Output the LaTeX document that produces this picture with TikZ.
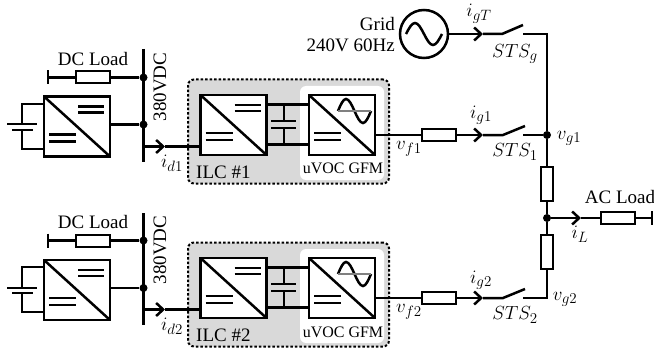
\RequirePackage{fix-cm}
\documentclass[tikz,border=0pt]{standalone}
\usepackage{amsmath}
\usepackage{fontspec}
\setmainfont{Liberation Serif}
\usetikzlibrary{arrows.meta}
\definecolor{ilcgray}{HTML}{D9D9D9}
\newcommand{\bigtxt}{\fontsize{19}{21}\selectfont}
\DeclareMathSizes{19}{19}{15}{11}
% diagonal and lower bars of a converter box
\newcommand{\convlines}[1]{
    \draw[wire] (#1.north west) -- (#1.south east);
    \draw[wire] ([shift={(5,38)}]#1.north west) -- ([shift={(32,38)}]#1.north west);
    \draw[wire] ([shift={(5,45)}]#1.north west) -- ([shift={(32,45)}]#1.north west);
}
\newcommand{\dcdclines}[1]{
    \convlines{#1}
    \draw[wire] ([shift={(34,10)}]#1.north west) -- ([shift={(60,10)}]#1.north west);
    \draw[wire] ([shift={(34,16)}]#1.north west) -- ([shift={(60,16)}]#1.north west);
}
\newcommand{\dcaclines}[1]{
    \convlines{#1}
    \draw[wire] ([shift={(29,16)}]#1.north west) sin ++(8,-12) cos ++(8.5,12) sin ++(8.5,12) cos ++(8,-12);
    \draw[line width=2pt, gray] ([shift={(29,16)}]#1.north west) -- ([shift={(62,16)}]#1.north west);
}
\tikzset{
    wire/.style={
           line width=2.5pt,
           },
    conv/.style={
           rectangle,
           draw=black, line width=2.5pt,
           fill=white,
           minimum width=66pt,
           minimum height=60pt,
           inner sep=0pt,
           outer sep=0pt,
           },
    rload/.style={
           rectangle,
           draw=black, line width=2pt,
           fill=white,
           minimum width=34pt,
           minimum height=12pt,
           inner sep=0pt,
           outer sep=0pt,
           },
    vload/.style={
           rload,
           minimum width=12pt,
           minimum height=34pt,
           },
    dot/.style={
           circle,
           fill=black,
           minimum size=8pt,
           inner sep=0pt,
           },
    ilc/.style={
           rectangle,
           rounded corners=6pt,
           draw=black, line width=2pt, dash pattern=on 2.5pt off 2pt,
           fill=ilcgray,
           minimum width=201pt,
           minimum height=104pt,
           },
    zone/.style={
           rectangle,
           rounded corners=6pt,
           fill=white,
           minimum width=84pt,
           minimum height=94pt,
           },
    lbl/.style={
           inner sep=0pt,
           font=\bigtxt,
           },
    >={Straight Barb[length=7pt,width=13pt]},
}

\begin{document}
\begin{tikzpicture}[x=1pt,y=-1pt]
    \useasboundingbox (0,0) rectangle (654,353);

    % ILC frames
    \node[ilc] (frame1) at (288.5,131.5) {};
    \node[ilc] (frame2) at (288.5,294.5) {};
    \node[zone] (zone1) at (342,133) {};
    \node[zone] (zone2) at (342,296) {};

    % Converters
    \node[conv] (batt1) at (77,126.5) {};
    \node[conv] (batt2) at (77,290) {};
    \node[conv] (rect1) at (233.5,125) {};
    \node[conv] (rect2) at (233.5,288) {};
    \node[conv] (inv1) at (342,125) {};
    \node[conv] (inv2) at (342,288) {};
    \dcdclines{batt1}
    \dcdclines{batt2}
    \dcdclines{rect1}
    \dcdclines{rect2}
    \dcaclines{inv1}
    \dcaclines{inv2}

    % Loads and line impedances
    \node[rload] (dcload1) at (93,77.5) {};
    \node[rload] (dcload2) at (93,240.5) {};
    \node[rload] (lf1) at (439,135) {};
    \node[rload] (lf2) at (439,298) {};
    \node[rload] (acload) at (617.5,218) {};
    \node[vload] (lg1) at (547,184) {};
    \node[vload] (lg2) at (547,252) {};

    % Grid source
    \node[circle, draw=black, line width=2.5pt, fill=white,
    minimum size=48pt, inner sep=0pt] (grid) at (424,34) {};
    \draw[wire] ([shift={(-18,0)}]grid.center) sin ++(9,-11) cos ++(9,11) sin ++(9,11) cos ++(9,-11);

    % DC buses, stubs and junctions
    \coordinate (bus1t) at (143.5,49);
    \coordinate (bus1b) at (143.5,162);
    \coordinate (bus2t) at (143.5,213);
    \coordinate (bus2b) at (143.5,325);
    \draw[wire, line width=3pt] (bus1t) -- (bus1b);
    \draw[wire, line width=3pt] (bus2t) -- (bus2b);
    \node[dot] (n1a) at (143.5,77.5) {};
    \node[dot] (n1b) at (143.5,124.5) {};
    \node[dot] (n2a) at (143.5,240.5) {};
    \node[dot] (n2b) at (143.5,288) {};
    \coordinate (gnd1) at (48,77.5);
    \coordinate (gnd2) at (48,240.5);
    \draw[wire] (n1a) -- (dcload1) -- (gnd1) ++(0,-7) -- ++(0,14);
    \draw[wire] (n2a) -- (dcload2) -- (gnd2) ++(0,-7) -- ++(0,14);
    \draw[wire] (n1b) -- (batt1.east |- n1b);
    \draw[wire] (n2b) -- (batt2.east |- n2b);

    % Batteries
    \draw[wire] (44,104) -- (22,104) -- (22,124) (7,124) -- (37,124)
        (12,130) -- (33,130) (22,130) -- (22,149) -- (44,149);
    \draw[wire] (44,267) -- (22,267) -- (22,288) (7,288) -- (37,288)
        (12,293) -- (33,293) (22,293) -- (22,312) -- (44,312);

    % DC currents into the ILCs
    \coordinate (id1a) at (143.5,146.5);
    \coordinate (id1b) at (165,146.5);
    \coordinate (id2a) at (143.5,309.5);
    \coordinate (id2b) at (165,309.5);
    \draw[wire, ->] (id1a) -- (id1b);
    \draw[wire] (id1b) -- (rect1.west |- id1b);
    \draw[wire, ->] (id2a) -- (id2b);
    \draw[wire] (id2b) -- (rect2.west |- id2b);

    % DC links
    \draw[wire] (267,104.5) -- (309,104.5) (267,144.5) -- (309,144.5)
        (284,104.5) -- (284,121) (271,121) -- (296,121)
        (271,128) -- (296,128) (284,128) -- (284,144.5);
    \draw[wire] (267,267.5) -- (309,267.5) (267,307.5) -- (309,307.5)
        (284,267.5) -- (284,284) (271,284) -- (296,284)
        (271,291) -- (296,291) (284,291) -- (284,307.5);

    % AC feeders
    \node[dot] (vg1) at (547,135) {};
    \coordinate (vg2) at (547,298);
    \coordinate (vgt) at (547,34);
    \node[dot] (pcc) at (547,218) {};
    \coordinate (ig1) at (483,135);
    \coordinate (ig2) at (483,298);
    \coordinate (igt) at (483,34);
    \coordinate (sw1) at (503,135);
    \coordinate (sw2) at (503,298);
    \coordinate (swt) at (502,34);
    \draw[wire] (inv1.east |- lf1) -- (lf1);
    \draw[wire] (inv2.east |- lf2) -- (lf2);
    \draw[wire, ->] (lf1) -- (ig1);
    \draw[wire, ->] (lf2) -- (ig2);
    \draw[wire, ->] (grid) -- (igt);
    \draw[wire] (ig1) -- (sw1) -- ++(22,-9);
    \draw[wire] (ig2) -- (sw2) -- ++(22,-9);
    \draw[wire] (igt) -- (swt) -- ++(21,-9);
    \draw[wire] (523,135) -- (vg1);
    \draw[wire] (523,298) -- (vg2) -- (lg2);
    \draw[wire] (523,34) -- (vgt) -- (vg1) -- (lg1) -- (pcc) -- (lg2);

    % AC load
    \coordinate (il) at (581,218);
    \coordinate (acend) at (652,218);
    \draw[wire, ->] (pcc) -- (il);
    \draw[wire] (il) -- (acload) -- (acend) ++(0,-7) -- ++(0,14);

    % Text
    \node[lbl] (dctxt1) at (93,59) {DC Load};
    \node[lbl] (dctxt2) at (93,222) {DC Load};
    \node[lbl] (actxt) at (620,197) {AC Load};
    \node[lbl, rotate=90] (bustxt1) at (160,87) {380VDC};
    \node[lbl, rotate=90] (bustxt2) at (160,250) {380VDC};
    \node[lbl, anchor=west] (ilctxt1) at (196,172) {ILC \#1};
    \node[lbl, anchor=west] (ilctxt2) at (196,335) {ILC \#2};
    \node[lbl, font=\fontsize{16}{18}\selectfont] (gfmtxt1) at (343,168) {uVOC GFM};
    \node[lbl, font=\fontsize{16}{18}\selectfont] (gfmtxt2) at (343,332) {uVOC GFM};
    \node[lbl, align=right, anchor=east] (gridtxt) at (395,35) {Grid\\240V 60Hz};
    \node[lbl] (lid1) at (172,163) {$i_{d1}$};
    \node[lbl] (lid2) at (172,326) {$i_{d2}$};
    \node[lbl] (lvf1) at (409,149) {$v_{f1}$};
    \node[lbl] (lvf2) at (409,312) {$v_{f2}$};
    \node[lbl] (ligt) at (479,14) {$i_{gT}$};
    \node[lbl] (lig1) at (481,115) {$i_{g1}$};
    \node[lbl] (lig2) at (481,280) {$i_{g2}$};
    \node[lbl] (lil) at (580,234) {$i_{L}$};
    \node[lbl] (lvg1) at (569,138) {$v_{g1}$};
    \node[lbl] (lvg2) at (565,299) {$v_{g2}$};
    \node[lbl] (lstsg) at (515,54) {$STS_{g}$};
    \node[lbl] (lsts1) at (515,152) {$STS_{1}$};
    \node[lbl] (lsts2) at (515,315) {$STS_{2}$};
\end{tikzpicture}
\end{document}
